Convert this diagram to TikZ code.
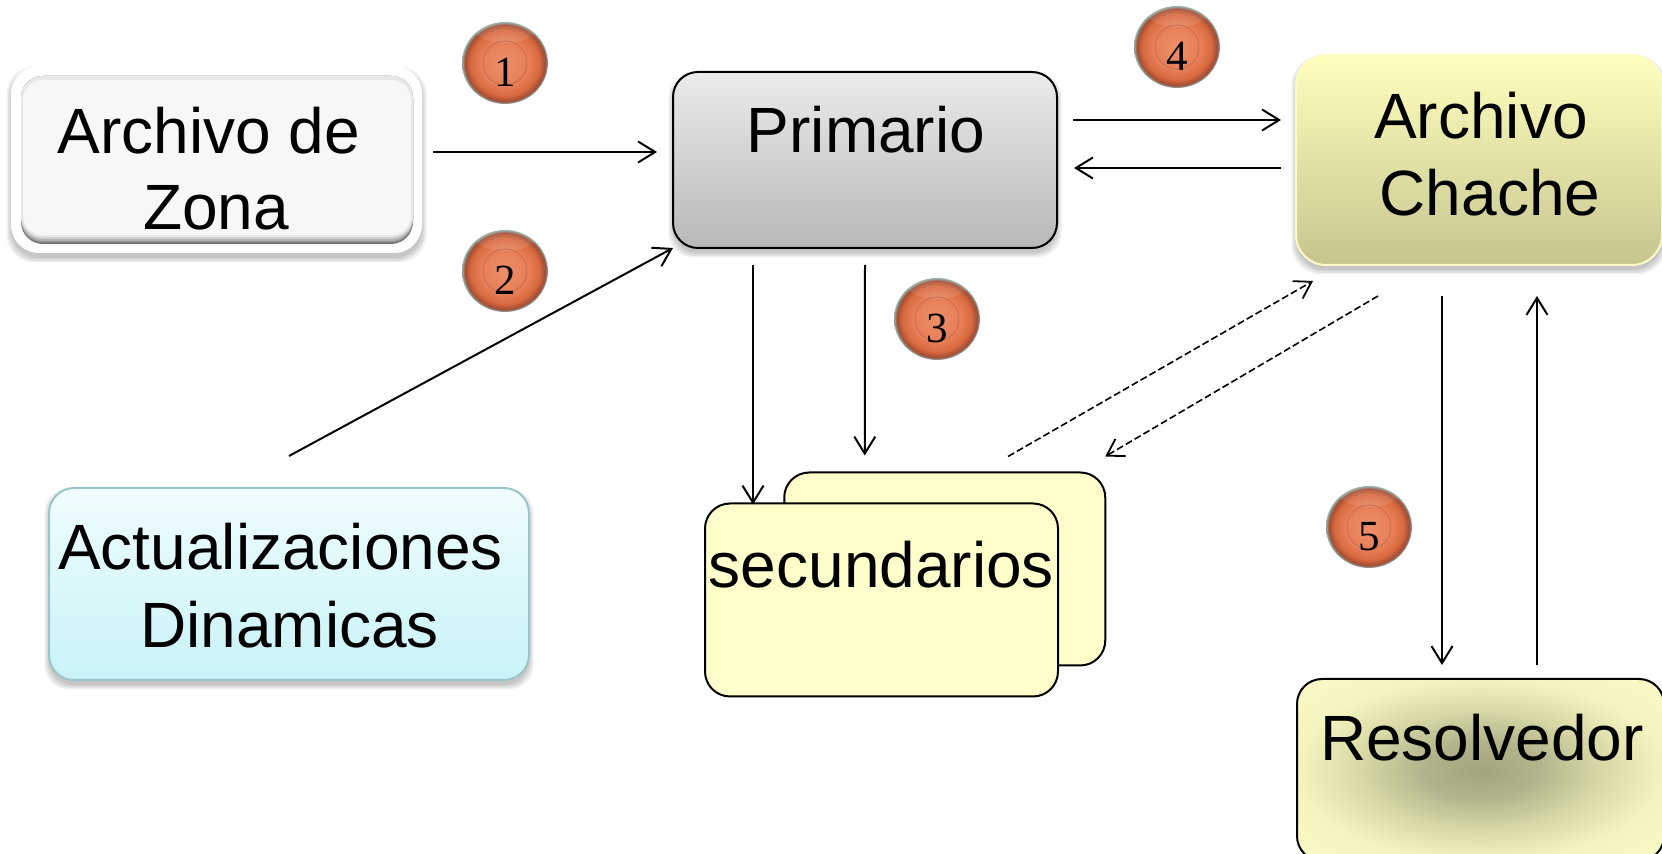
\documentclass[tikz,border=0pt]{standalone}
\usepackage{fontspec}
\setmainfont{Liberation Sans}
\newfontfamily\digitfont{Liberation Serif}
\usetikzlibrary{arrows.meta,shapes.geometric}
\definecolor{ballA}{HTML}{EE8F68}
\definecolor{ballB}{HTML}{E67E58}
\definecolor{ballC}{HTML}{D9693F}
\definecolor{ballD}{HTML}{A04C32}
\definecolor{ballE}{HTML}{8FA8A0}
\definecolor{resA}{HTML}{A3A47E}
\definecolor{resB}{HTML}{B3B48C}
\definecolor{resC}{HTML}{D6D7A4}
\definecolor{resD}{HTML}{F4F4C0}
\definecolor{resE}{HTML}{FAFAC8}
\pgfdeclareradialshading{ballshade}{\pgfpoint{0bp}{0bp}}{color(0bp)=(ballA); color(14bp)=(ballB); color(20bp)=(ballC); color(23.4bp)=(ballD); color(24.8bp)=(ballE); color(50bp)=(ballE)}
\pgfdeclareradialshading{resshade}{\pgfpoint{0bp}{0bp}}{color(0bp)=(resA); color(8bp)=(resB); color(16bp)=(resC); color(25bp)=(resD); color(35bp)=(resE); color(50bp)=(resE)}
\newcommand{\softshad}[5]{% x1 y1 x2 y2 radius
  \foreach \e in {0,1.5,3,4.5}{
    \fill[black,opacity=.06,rounded corners=#5*.5pt]
      (#1-\e,#2-\e+5) rectangle (#3+\e,#4+\e+5);
  }}
\tikzset{
  x=.5pt,y=-.5pt,
  boxbase/.style={rectangle,rounded corners=12.5pt,inner sep=0pt,outer sep=0pt},
  zonaouter/.style={boxbase,fill=white,minimum width=205.5pt,minimum height=93.5pt,rounded corners=14pt},
  primbox/.style={boxbase,draw=black,line width=1pt,top color=primtop,bottom color=primbot,minimum width=192pt,minimum height=88pt},
  chachebox/.style={boxbase,draw=chacheline,line width=1pt,top color=chachetop,bottom color=chachebot,minimum width=183pt,minimum height=105pt,rounded corners=15pt},
  actbox/.style={boxbase,draw=actline,line width=1pt,top color=acttop,bottom color=actbot,minimum width=240pt,minimum height=96pt},
  secbox/.style={boxbase,draw=black,line width=1pt,fill=secfill},
  resbox/.style={boxbase,draw=black,line width=1pt,shading=resshade,minimum width=183.5pt,minimum height=91pt},
  lab/.style={anchor=base,inner sep=0pt,font=\fontsize{32}{38}\selectfont,text=black},
  ball/.style={ellipse,inner sep=0pt,outer sep=0pt,minimum width=43pt,minimum height=41pt,
    font=\digitfont\fontsize{21.5}{24}\selectfont,text=black,
    path picture={
      \shade[shading=ballshade] (path picture bounding box.south west) rectangle (path picture bounding box.north east);
      \fill[white,opacity=.1] ([yshift=-5pt]path picture bounding box.north) ellipse (28 and 11);
      \draw[ballring,line width=.35pt] (path picture bounding box.center) ellipse (22 and 22);
    }},
  arr/.style={draw=black,line width=1pt,-{Straight Barb[length=8.5pt,width=10.5pt,line width=1pt]}},
  dasharr/.style={draw=black,line width=.8pt,dash pattern=on 3.5pt off 1.6pt,-{Straight Barb[length=8pt,width=10pt,line width=.9pt]}},
}
\definecolor{primtop}{HTML}{EBEBEB}
\definecolor{primbot}{HTML}{B8B8B8}
\definecolor{chacheline}{HTML}{FBFBC4}
\definecolor{chachetop}{HTML}{FFFFBE}
\definecolor{chachebot}{HTML}{C6C590}
\definecolor{actline}{HTML}{9CC5C9}
\definecolor{acttop}{HTML}{F0FDFE}
\definecolor{actbot}{HTML}{C8F3F8}
\definecolor{secfill}{HTML}{FFFFCC}
\definecolor{ballring}{HTML}{C86A4C}
\definecolor{zonafill}{HTML}{F7F7F7}
\begin{document}
\begin{tikzpicture}
\useasboundingbox (0,0) rectangle (1662,854);
\clip (0,0) rectangle (1662,854);
\fill[white] (0,0) rectangle (1662,854);

% Archivo de Zona
\softshad{11}{66}{422}{253}{28}
\node[zonaouter] (zona) at (216.5,159.5) {};
\foreach \b/\n in {244/55,242.5/42,241/30,239/18,237/9}{
  \fill[black!\n!white,rounded corners=11pt] (21,76) rectangle (413,\b);
}
\fill[zonafill,rounded corners=10pt] (23,80) rectangle (411,235);
\node[lab] (zonaT1) at (209,153.5) {Archivo de};
\node[lab] (zonaT2) at (216,229.5) {Zona};

% Primario
\softshad{673}{72}{1057}{248}{25}
\node[primbox] (prim) at (865,160) {};
\node[lab] (primT) at (866,152.5) {Primario};

% Archivo Chache
\softshad{1296}{55}{1662}{265}{30}
\node[chachebox] (cache) at (1479,160) {};
\node[lab] (cacheT1) at (1481,138.5) {Archivo};
\node[lab] (cacheT2) at (1490,215.5) {Chache};

% Actualizaciones Dinamicas
\softshad{49}{488}{529}{680}{25}
\node[actbox] (act) at (289,584) {};
\node[lab] (actT1) at (280.5,570) {Actualizaciones};
\node[lab] (actT2) at (289.5,648) {Dinamicas};

% secundarios
\node[secbox,minimum width=160.5pt,minimum height=96.5pt] (secback) at (944.75,569) {};
\node[secbox,minimum width=176.5pt,minimum height=96.5pt] (secfront) at (881.5,600) {};
\node[lab] (secT) at (881.5,588) {secundarios};

% Resolvedor
\node[resbox] (resol) at (1480.5,770) {};
\node[lab] (resT) at (1482,761) {Resolvedor};

% numbered balls
\node[ball] (b1) at (505,63) {\raisebox{-12pt}[0pt][0pt]{1}};
\node[ball] (b2) at (505,271) {\raisebox{-12pt}[0pt][0pt]{2}};
\node[ball] (b3) at (937,319) {\raisebox{-12pt}[0pt][0pt]{3}};
\node[ball] (b4) at (1177,47) {\raisebox{-12pt}[0pt][0pt]{4}};
\node[ball] (b5) at (1369,527) {\raisebox{-12pt}[0pt][0pt]{5}};

% connectors
\draw[arr] ([shift={(11,-7.5)}]zona.east) -- ([shift={(-16,-8)}]prim.west);
\draw[arr] ([shift={(0,-32)}]act.north) -- (prim.south west);
\draw[arr] ([shift={(16,-40)}]prim.east) -- ([shift={(-15,-40)}]cache.west);
\draw[arr] ([shift={(-15,8)}]cache.west) -- ([shift={(17,8)}]prim.east);
\draw[arr] ([shift={(-112,17)}]prim.south) -- ([shift={(-128.5,1)}]secfront.north);
\draw[arr] ([shift={(0,17)}]prim.south) -- ([shift={(-80,-17)}]secback.north);
\draw[dasharr] ([shift={(63.25,-16)}]secback.north) -- ([shift={(-166,16)}]cache.south);
\draw[dasharr] ([shift={(-101,31)}]cache.south) -- ([shift={(0,-16)}]secback.north east);
\draw[arr] ([shift={(-37,31)}]cache.south) -- ([shift={(-38.5,-14)}]resol.north);
\draw[arr] ([shift={(56.5,-14)}]resol.north) -- ([shift={(58,31)}]cache.south);
\end{tikzpicture}
\end{document}
